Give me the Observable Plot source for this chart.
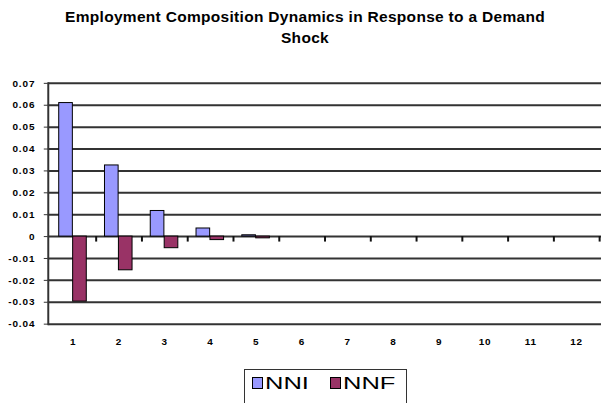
<!DOCTYPE html>
<html><head><meta charset="utf-8">
<script src="https://cdn.jsdelivr.net/npm/d3@7"></script>
<script src="https://cdn.jsdelivr.net/npm/@observablehq/plot@0.6"></script>
<style>
html,body{margin:0;padding:0;background:#fff;}
body{width:601px;height:403px;overflow:hidden;position:relative;font-family:"Liberation Sans",Arial,sans-serif;}
#title{position:absolute;left:0;top:6px;width:610px;text-align:center;font-weight:bold;font-size:15.5px;line-height:21px;letter-spacing:0.3px;color:#000;}
#chart{position:absolute;left:0;top:55px;}
#legend{position:absolute;left:244px;top:369px;width:163px;height:40px;border:1px solid #333;box-sizing:border-box;font-size:17px;color:#000;}
.item{position:absolute;top:4px;white-space:nowrap;}
.sw{display:inline-block;width:9px;height:10px;border:1px solid #000;margin-right:2px;vertical-align:0px;}
.lbl{display:inline-block;transform:scaleX(1.5);transform-origin:left center;}
</style></head>
<body>
<div id="title">Employment Composition Dynamics in Response to a Demand<br>Shock</div>
<div id="chart"></div>
<div id="legend"></div>
<script>
const periods = [1,2,3,4,5,6,7,8,9,10,11,12];
const nni = [0.061, 0.0325, 0.0117, 0.0037, 0.0006, 0, 0, 0, 0, 0, 0, 0];
const nnf = [-0.0297, -0.0154, -0.0053, -0.0016, -0.0008, 0, 0, 0, 0, 0, 0, 0];
const yTicks = [0.07, 0.06, 0.05, 0.04, 0.03, 0.02, 0.01, 0, -0.01, -0.02, -0.03, -0.04];
const seriesNames = ["NNI", "NNF"];
const colors = ["#9999FF", "#993366"];

const dataNNI = periods.map((p, i) => ({period: p, value: nni[i]}));
const dataNNF = periods.map((p, i) => ({period: p, value: nnf[i]}));

const fmt = d => String(+d.toFixed(2));

const chart = Plot.plot({
  width: 604,
  height: 300,
  marginLeft: 48,
  marginRight: 0,
  marginTop: 28,
  marginBottom: 30,
  style: {fontFamily: "Liberation Sans, Arial, sans-serif", fontSize: "10px", fontWeight: "bold", letterSpacing: "0.9px", color: "#000", background: "#fff", overflow: "visible"},
  x: {type: "band", domain: periods, padding: 0},
  y: {domain: [-0.04, 0.07]},
  marks: [
    Plot.ruleY(yTicks, {stroke: "#333", strokeWidth: 2}),
    Plot.barY(dataNNI, {x: "period", y: "value", fill: colors[0], stroke: "#000", strokeWidth: 1, insetLeft: 9, insetRight: 23.3}),
    Plot.barY(dataNNF, {x: "period", y: "value", fill: colors[1], stroke: "#000", strokeWidth: 1, insetLeft: 23, insetRight: 9.3}),
    Plot.ruleX(periods, {x: d => d, y1: 0, y2: -0.0025, dx: 23.15, stroke: "#111", strokeWidth: 2}),
    Plot.frame({anchor: "left", stroke: "#333", strokeWidth: 2}),
    Plot.axisY({ticks: yTicks, tickFormat: fmt, tickSize: 4, tickPadding: 9, stroke: "#333", label: null}),
    Plot.axisX({anchor: "bottom", tickSize: 0, tickPadding: 14, label: null})
  ]
});
document.getElementById("chart").appendChild(chart);

const legend = document.getElementById("legend");
const xs = [7, 85];
seriesNames.forEach((n, i) => {
  const it = document.createElement("div");
  it.className = "item";
  it.style.left = xs[i] + "px";
  it.innerHTML = `<span class="sw" style="background:${colors[i]}"></span><span class="lbl">${n}</span>`;
  legend.appendChild(it);
});
</script>
</body></html>
